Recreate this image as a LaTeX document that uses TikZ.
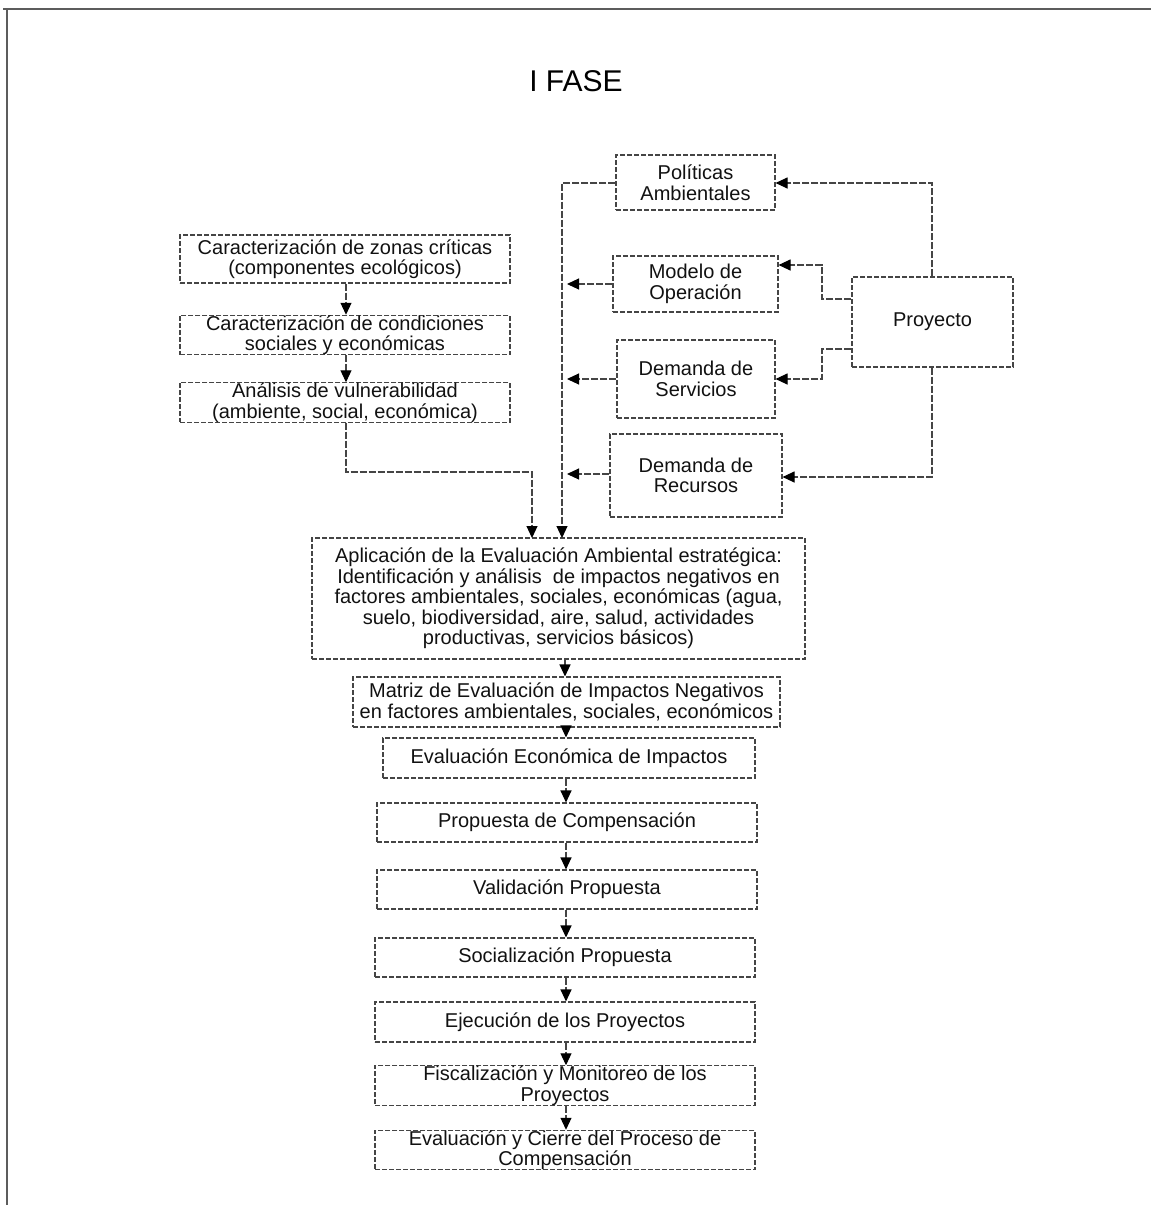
\documentclass[tikz,border=0pt]{standalone}
\usepackage{fontspec}
\setmainfont{Liberation Sans}
\usetikzlibrary{arrows.meta}
\definecolor{ink}{HTML}{111111}
\definecolor{edge}{HTML}{454545}
\definecolor{framec}{HTML}{5C5C5C}
\tikzset{
  box/.style={draw=edge, line width=1.1pt, dash pattern=on 5pt off 2pt, inner sep=0pt, align=center,
    text=ink, font=\fontsize{20}{20.5}\selectfont},
  conn/.style={draw=edge, line width=1.1pt, dash pattern=on 7pt off 2pt},
  arr/.style={conn, -{Triangle[length=12pt,width=11pt,fill=black,color=black]}},
}
\begin{document}
\begin{tikzpicture}[x=1pt,y=-1pt]
\useasboundingbox (0,0) rectangle (1151,1205);
% frame (top and left only)
\draw[framec, line width=2pt] (3,9) -- (1151,9);
\draw[framec, line width=2pt] (7,9) -- (7,1205);
% title
\node[text=black, font=\fontsize{30}{34}\selectfont] (title) at (576,81) {I FASE};
% right group
\node[box, minimum width=159pt, minimum height=55pt] (pol) at (695.5,182.5) {Políticas\\Ambientales};
\node[box, minimum width=165pt, minimum height=56pt] (mod) at (695.5,284) {Modelo de\\Operación};
\node[box, minimum width=158pt, minimum height=78pt] (ser) at (696,379) {Demanda de\\Servicios};
\node[box, minimum width=172pt, minimum height=83pt] (rec) at (696,475.5) {Demanda de\\Recursos};
\node[box, minimum width=161pt, minimum height=90pt] (pro) at (932.5,322) {Proyecto};
% left group
\node[box, minimum width=330pt, minimum height=48pt] (c1) at (345,259) {Caracterización de zonas críticas\\(componentes ecológicos)};
\node[box, minimum width=330pt, minimum height=36pt] (c2) at (345,335) {Caracterización de condiciones\\sociales y económicas};
\node[box, minimum width=330pt, minimum height=35pt] (c3) at (345,402.5) {Análisis de vulnerabilidad\\(ambiente, social, económica)};
% central column
\node[box, minimum width=493pt, minimum height=121pt] (apl) at (558.5,598.5) {Aplicación de la Evaluación Ambiental estratégica:\\Identificación y análisis~ de impactos negativos en\\factores ambientales, sociales, económicas (agua,\\suelo, biodiversidad, aire, salud, actividades\\productivas, servicios básicos)};
\node[box, minimum width=427pt, minimum height=50pt] (mat) at (566.5,702) {Matriz de Evaluación de Impactos Negativos\\en factores ambientales, sociales, económicos};
\node[box, minimum width=372pt, minimum height=40pt] (ee) at (569,758) {Evaluación Económica de Impactos};
\node[box, minimum width=380pt, minimum height=39pt] (p1) at (567,822.5) {Propuesta de Compensación};
\node[box, minimum width=380pt, minimum height=39pt] (p2) at (567,889.5) {Validación Propuesta};
\node[box, minimum width=380pt, minimum height=39pt] (p3) at (565,957.5) {Socialización Propuesta};
\node[box, minimum width=380pt, minimum height=40pt] (p4) at (565,1022) {Ejecución de los Proyectos};
\node[box, minimum width=380pt, minimum height=39pt] (p5) at (565,1085.5) {Fiscalización y Monitoreo de los\\Proyectos};
\node[box, minimum width=380pt, minimum height=38pt] (p6) at (565,1150) {Evaluación y Cierre del Proceso de\\Compensación};
% coordinates
\coordinate (bus) at (562,183);
\coordinate (busend) at (562,538);
\coordinate (m1) at (567,284);
\coordinate (s1) at (567,379);
\coordinate (r1) at (567,474);
\coordinate (pp) at (932,183);
\coordinate (pm1) at (822,299);
\coordinate (pm2) at (822,265);
\coordinate (ps1) at (822,349);
\coordinate (ps2) at (822,379);
\coordinate (pr) at (932,477);
\coordinate (v1) at (346,472);
\coordinate (v2) at (532,472);
\coordinate (v3) at (532,538);
% connectors right group
\draw[arr] (pol.west |- bus) -- (bus) -- (busend);
\draw[arr] (pro.north -| pp) -- (pp) -- (pol.east |- pp);
\draw[arr] (pro.west |- pm1) -- (pm1) -- (pm2) -- (mod.east |- pm2);
\draw[arr] (pro.west |- ps1) -- (ps1) -- (ps2) -- (ser.east |- ps2);
\draw[arr] (pro.south -| pr) -- (pr) -- (rec.east |- pr);
\draw[arr] (mod.west |- m1) -- (m1);
\draw[arr] (ser.west |- s1) -- (s1);
\draw[arr] (rec.west |- r1) -- (r1);
% connectors left group
\draw[arr] (c1.south -| v1) -- (c2.north -| v1);
\draw[arr] (c2.south -| v1) -- (c3.north -| v1);
\draw[arr] (c3.south -| v1) -- (v1) -- (v2) -- (v3);
% column
\draw[arr] (apl.south -| 565,0) -- (mat.north -| 565,0);
\draw[arr] (mat.south -| 566,0) -- (ee.north -| 566,0);
\draw[arr] (ee.south -| 566,0) -- (p1.north -| 566,0);
\draw[arr] (p1.south -| 566,0) -- (p2.north -| 566,0);
\draw[arr] (p2.south -| 566,0) -- (p3.north -| 566,0);
\draw[arr] (p3.south -| 566,0) -- (p4.north -| 566,0);
\draw[arr] (p4.south -| 566,0) -- (p5.north -| 566,0);
\draw[arr] (p5.south -| 566,0) -- (p6.north -| 566,0);
\end{tikzpicture}
\end{document}
